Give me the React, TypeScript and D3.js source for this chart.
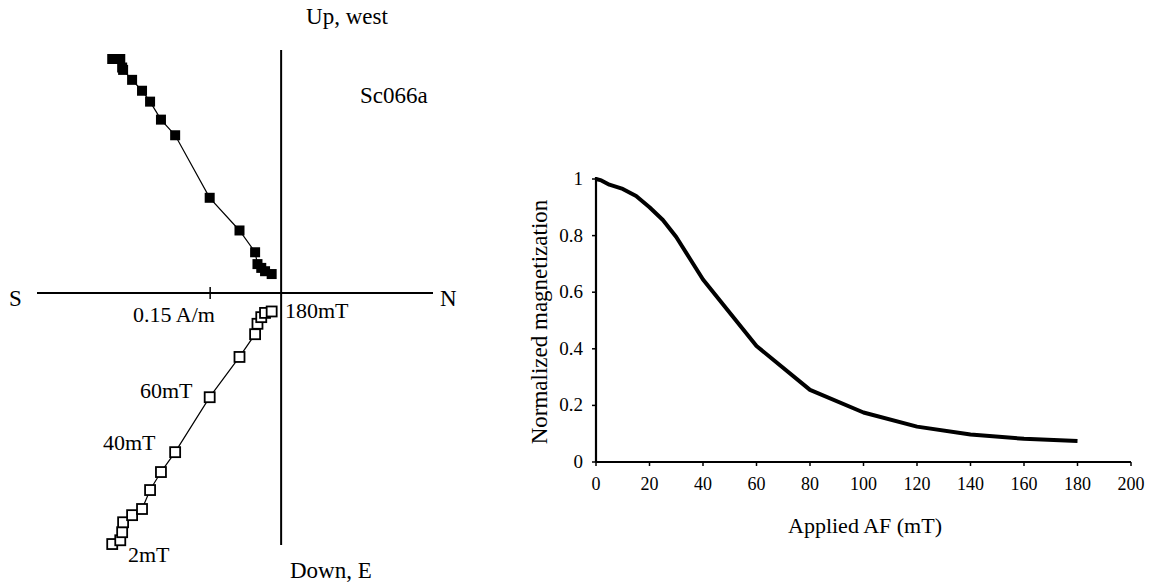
import * as d3 from "d3";

// AF demagnetization steps (mT)
const steps = [2, 5, 10, 15, 20, 25, 30, 35, 40, 60, 80, 100, 120, 140, 160, 180];
// Zijderveld components (A/m)
const north = [-0.357, -0.34, -0.336, -0.334, -0.315, -0.294, -0.277, -0.254, -0.224, -0.151, -0.088, -0.055, -0.05, -0.042, -0.034, -0.02];
const upWest = [0.494, 0.494, 0.476, 0.471, 0.45, 0.427, 0.404, 0.366, 0.333, 0.201, 0.132, 0.086, 0.061, 0.053, 0.046, 0.04];
const downEast = [0.53, 0.522, 0.505, 0.484, 0.469, 0.456, 0.416, 0.378, 0.336, 0.22, 0.135, 0.087, 0.065, 0.051, 0.042, 0.039];

// demagnetization curve
const afField = [0, 2, 5, 10, 15, 20, 25, 30, 35, 40, 60, 80, 100, 120, 140, 160, 180];
const normMag = [1, 0.995, 0.98, 0.965, 0.94, 0.9, 0.855, 0.795, 0.72, 0.645, 0.41, 0.255, 0.175, 0.125, 0.097, 0.082, 0.074];
const xTicks = [0, 20, 40, 60, 80, 100, 120, 140, 160, 180, 200];
const yTicks = [0, 0.2, 0.4, 0.6, 0.8, 1];

const font = "'Liberation Serif', 'Times New Roman', serif";

const Zijderveld = () => {
  const x = d3.scaleLinear().domain([-0.516, 0.321]).range([37, 433]);
  const y = d3.scaleLinear().domain([0.513, -0.532]).range([50, 545]);

  const pts = steps.map((s, i) => ({ s, n: north[i], u: upWest[i], d: downEast[i] }));
  const upLine = d3.line<any>().x((p) => x(p.n)).y((p) => y(p.u));
  const downLine = d3.line<any>().x((p) => x(p.n)).y((p) => y(-p.d));
  const sq = 10;

  return (
    <g fontFamily={font} fill="#000">
      {/* axes */}
      <line x1={x(-0.516)} x2={x(0.321)} y1={y(0)} y2={y(0)} stroke="#000" strokeWidth={2} />
      <line x1={x(0)} x2={x(0)} y1={y(0.513)} y2={y(-0.532)} stroke="#000" strokeWidth={2} />
      <line x1={x(-0.15)} x2={x(-0.15)} y1={y(0) - 6} y2={y(0) + 6} stroke="#000" strokeWidth={1.5} />

      <path d={upLine(pts) ?? ""} fill="none" stroke="#000" strokeWidth={1.2} />
      <path d={downLine(pts) ?? ""} fill="none" stroke="#000" strokeWidth={1.2} />

      {pts.map((p) => (
        <rect key={"u" + p.s} x={x(p.n) - sq / 2} y={y(p.u) - sq / 2} width={sq} height={sq} fill="#000" />
      ))}
      {pts.map((p) => (
        <rect key={"d" + p.s} x={x(p.n) - sq / 2} y={y(-p.d) - sq / 2} width={sq} height={sq} fill="#fff" stroke="#000" strokeWidth={1.8} />
      ))}

      <text x={347} y={24} fontSize={23} textAnchor="middle">Up, west</text>
      <text x={360} y={103} fontSize={23}>Sc066a</text>
      <text x={9} y={306} fontSize={23}>S</text>
      <text x={440} y={306} fontSize={23}>N</text>
      <text x={133} y={322} fontSize={22}>0.15 A/m</text>
      <text x={285} y={318} fontSize={22}>180mT</text>
      <text x={140} y={398} fontSize={22}>60mT</text>
      <text x={103} y={450} fontSize={22}>40mT</text>
      <text x={128} y={562} fontSize={22}>2mT</text>
      <text x={290} y={578} fontSize={23}>Down, E</text>
    </g>
  );
};

const DemagCurve = () => {
  const x = d3.scaleLinear().domain([0, 200]).range([596, 1131]);
  const y = d3.scaleLinear().domain([0, 1]).range([462, 179]);
  const line = d3
    .line<number>()
    .x((_, i) => x(afField[i]))
    .y((d) => y(d));

  return (
    <g fontFamily={font} fill="#000">
      <path d={line(normMag) ?? ""} fill="none" stroke="#000" strokeWidth={4} strokeLinejoin="round" />

      <line x1={x(0)} x2={x(0)} y1={y(0)} y2={y(1) - 2} stroke="#000" strokeWidth={2.2} />
      <line x1={x(0)} x2={x(200)} y1={y(0)} y2={y(0)} stroke="#000" strokeWidth={2} />

      {yTicks.map((t) => (
        <g key={"y" + t}>
          <line x1={x(0) - 4} x2={x(0)} y1={y(t)} y2={y(t)} stroke="#000" strokeWidth={1.5} />
          <text x={583} y={y(t) + 6} fontSize={19} textAnchor="end">{t}</text>
        </g>
      ))}
      {xTicks.map((t) => (
        <g key={"x" + t}>
          <line x1={x(t)} x2={x(t)} y1={y(0)} y2={y(0) + 4} stroke="#000" strokeWidth={1.5} />
          <text x={x(t)} y={490} fontSize={18} textAnchor="middle">{t}</text>
        </g>
      ))}

      <text transform="translate(547,322) rotate(-90)" fontSize={23} textAnchor="middle">Normalized magnetization</text>
      <text x={865} y={533} fontSize={22} textAnchor="middle">Applied AF (mT)</text>
    </g>
  );
};

export default function App() {
  return (
    <svg
      width={1157}
      height={584}
      style={{ position: "absolute", left: 0, top: 0, background: "#fff" }}
    >
      <rect width={1157} height={584} fill="#fff" />
      <Zijderveld />
      <DemagCurve />
    </svg>
  );
}
